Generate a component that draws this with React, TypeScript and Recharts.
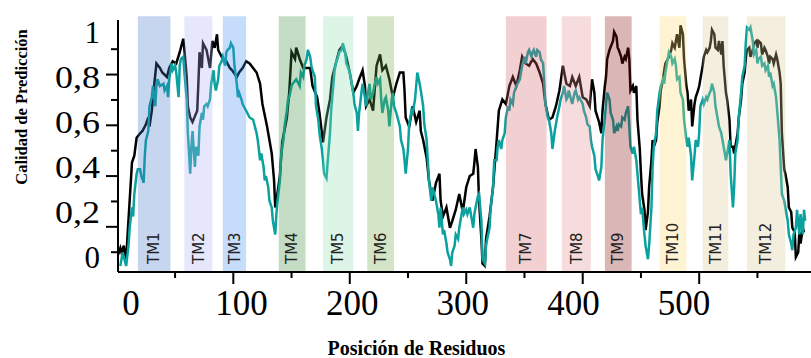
import { LineChart, Line, XAxis, YAxis, ReferenceArea } from 'recharts'

// [residue, score]
const blackSeries: [number, number][] = [
  [1, 0.01], [3, 0.04], [4, 0.02], [6, 0.05], [8, -0.02], [9, 0.08], [11, 0.25], [13, 0.42], [15, 0.45], [17, 0.53],
  [20, 0.55], [22, 0.56], [25, 0.59], [27, 0.62], [28, 0.58], [30, 0.65], [32, 0.76], [34, 0.86], [37, 0.84], [39, 0.82],
  [43, 0.8], [45, 0.84], [48, 0.87], [51, 0.86], [54, 0.91], [57, 0.97], [58, 0.92], [60, 0.8], [61, 0.67], [63, 0.62],
  [65, 0.6], [69, 0.65], [70, 0.77], [71, 0.91], [73, 0.84], [74, 0.95], [77, 0.92], [80, 0.84], [82, 0.96], [84, 0.93],
  [86, 0.99], [87, 0.92], [88, 0.91], [91, 0.88], [94, 0.87], [97, 0.84], [99, 0.83], [103, 0.8], [105, 0.82], [108, 0.84],
  [111, 0.87], [114, 0.86], [117, 0.84], [120, 0.82], [123, 0.77], [125, 0.68], [129, 0.58], [131, 0.52], [133, 0.46], [135, 0.34],
  [136, 0.22], [137, 0.25], [140, 0.36], [142, 0.51], [146, 0.62], [148, 0.73], [150, 0.91], [153, 0.88], [154, 0.93], [157, 0.88],
  [160, 0.84], [163, 0.84], [166, 0.84], [168, 0.76], [172, 0.71], [174, 0.64], [177, 0.51], [180, 0.62], [183, 0.7], [185, 0.8],
  [189, 0.88], [191, 0.92], [194, 0.94], [197, 0.89], [200, 0.82], [203, 0.73], [206, 0.76], [208, 0.79], [211, 0.83], [213, 0.76],
  [214, 0.67], [217, 0.7], [220, 0.65], [223, 0.85], [226, 0.9], [228, 0.83], [231, 0.85], [234, 0.79], [237, 0.71], [240, 0.77],
  [243, 0.82], [246, 0.82], [247, 0.74], [248, 0.62], [251, 0.58], [254, 0.67], [257, 0.6], [260, 0.65], [261, 0.56], [263, 0.52],
  [266, 0.44], [268, 0.34], [271, 0.25], [274, 0.33], [277, 0.37], [278, 0.25], [280, 0.18], [283, 0.22], [286, 0.13], [288, 0.16],
  [291, 0.21], [294, 0.28], [297, 0.2], [300, 0.31], [303, 0.36], [306, 0.37], [307, 0.42], [308, 0.48], [310, 0.4], [311, 0.25],
  [313, 0.08], [314, -0.03], [316, -0.04], [317, 0.08], [320, 0.18], [323, 0.31], [326, 0.51], [328, 0.65], [331, 0.7], [334, 0.68],
  [337, 0.76], [340, 0.8], [343, 0.76], [346, 0.83], [348, 0.89], [351, 0.86], [354, 0.85], [357, 0.88], [360, 0.86], [363, 0.82],
  [366, 0.77], [368, 0.68], [371, 0.61], [374, 0.62], [377, 0.67], [380, 0.74], [383, 0.85], [386, 0.77], [389, 0.76], [391, 0.8],
  [394, 0.76], [397, 0.8], [400, 0.71], [403, 0.7], [406, 0.67], [408, 0.79], [410, 0.73], [411, 0.65], [414, 0.6], [416, 0.55],
  [417, 0.65], [419, 0.76], [420, 0.8], [421, 0.88], [423, 0.92], [426, 0.96], [427, 1.0], [429, 0.98], [430, 0.93], [431, 0.92],
  [433, 0.89], [434, 0.86], [436, 0.89], [437, 0.88], [439, 0.93], [440, 0.88], [441, 0.74], [443, 0.76], [444, 0.73], [446, 0.76],
  [447, 0.61], [449, 0.48], [450, 0.37], [451, 0.28], [453, 0.21], [454, 0.12], [456, 0.2], [457, 0.31], [459, 0.43], [460, 0.52],
  [461, 0.49], [463, 0.52], [464, 0.6], [466, 0.67], [467, 0.74], [469, 0.79], [470, 0.83], [471, 0.86], [473, 0.88], [474, 0.89],
  [476, 0.92], [477, 0.95], [479, 0.93], [480, 0.96], [481, 0.99], [483, 0.93], [484, 1.03], [486, 0.99], [487, 0.88], [489, 0.76],
  [490, 0.73], [491, 0.65], [493, 0.7], [494, 0.58], [496, 0.68], [497, 0.71], [499, 0.74], [500, 0.76], [501, 0.79], [503, 0.85],
  [504, 0.89], [506, 0.92], [507, 0.91], [509, 0.93], [510, 0.96], [511, 1.01], [513, 0.99], [514, 0.93], [516, 0.92], [517, 0.96],
  [519, 0.9], [520, 0.96], [521, 0.85], [523, 0.73], [524, 0.7], [526, 0.61], [527, 0.49], [529, 0.49], [530, 0.46], [531, 0.49],
  [533, 0.55], [534, 0.62], [536, 0.7], [537, 0.77], [539, 0.82], [540, 0.88], [541, 0.92], [543, 0.93], [544, 0.89], [546, 0.92],
  [547, 0.95], [549, 0.96], [550, 0.93], [551, 0.96], [553, 0.95], [554, 0.9], [556, 0.93], [557, 0.92], [559, 0.89], [560, 0.86],
  [561, 0.89], [563, 0.88], [564, 0.86], [566, 0.9], [567, 0.88], [569, 0.82], [570, 0.77], [571, 0.55], [573, 0.39], [574, 0.37],
  [576, 0.31], [577, 0.22], [579, 0.2], [580, 0.13], [582, 0.11], [583, 0.0], [585, 0.02], [586, 0.11], [587, 0.06], [589, 0.13],
  [590, 0.11],
]

const tealSeries: [number, number][] = [
  [3, -0.04], [5, 0.02], [8, -0.04], [10, 0.05], [11, 0.13], [13, 0.22], [14, 0.18], [15, 0.28], [17, 0.37], [18, 0.39],
  [20, 0.39], [21, 0.36], [23, 0.33], [24, 0.45], [25, 0.52], [27, 0.56], [28, 0.67], [30, 0.71], [31, 0.76], [33, 0.67],
  [34, 0.76], [35, 0.79], [37, 0.76], [40, 0.77], [41, 0.74], [43, 0.76], [44, 0.71], [45, 0.79], [47, 0.86], [48, 0.83],
  [50, 0.85], [51, 0.82], [53, 0.71], [54, 0.85], [55, 0.88], [57, 0.89], [58, 0.82], [60, 0.7], [61, 0.55], [63, 0.37],
  [64, 0.49], [65, 0.56], [67, 0.4], [68, 0.49], [70, 0.45], [71, 0.58], [73, 0.64], [74, 0.61], [75, 0.67], [77, 0.68],
  [78, 0.67], [80, 0.7], [81, 0.77], [83, 0.83], [84, 0.77], [85, 0.74], [87, 0.79], [88, 0.85], [90, 0.87], [91, 0.89],
  [93, 0.85], [94, 0.91], [95, 0.92], [97, 0.93], [98, 0.95], [100, 0.93], [101, 0.85], [103, 0.77], [104, 0.71], [105, 0.73],
  [107, 0.7], [108, 0.68], [111, 0.65], [114, 0.62], [117, 0.61], [120, 0.55], [121, 0.52], [123, 0.43], [124, 0.46], [126, 0.4],
  [127, 0.34], [128, 0.36], [130, 0.31], [131, 0.25], [133, 0.22], [134, 0.16], [136, 0.1], [137, 0.19], [138, 0.25], [140, 0.34],
  [141, 0.45], [143, 0.52], [144, 0.58], [146, 0.65], [147, 0.7], [148, 0.71], [150, 0.76], [151, 0.77], [154, 0.79], [157, 0.76],
  [158, 0.82], [160, 0.8], [161, 0.85], [163, 0.88], [164, 0.92], [166, 0.89], [167, 0.85], [168, 0.83], [170, 0.8], [171, 0.67],
  [173, 0.61], [174, 0.55], [176, 0.48], [177, 0.43], [178, 0.37], [180, 0.35], [181, 0.42], [183, 0.55], [184, 0.65], [186, 0.77],
  [187, 0.83], [188, 0.86], [190, 0.89], [191, 0.91], [193, 0.92], [194, 0.95], [196, 0.91], [197, 0.86], [198, 0.85], [200, 0.82],
  [201, 0.79], [203, 0.73], [204, 0.68], [206, 0.64], [207, 0.56], [208, 0.64], [210, 0.73], [211, 0.77], [213, 0.71], [214, 0.67],
  [216, 0.74], [217, 0.77], [218, 0.7], [220, 0.73], [221, 0.76], [223, 0.8], [224, 0.77], [226, 0.79], [227, 0.7], [228, 0.64],
  [230, 0.7], [231, 0.71], [233, 0.65], [234, 0.58], [236, 0.7], [237, 0.73], [238, 0.67], [240, 0.64], [241, 0.62], [243, 0.58],
  [244, 0.52], [246, 0.48], [247, 0.43], [248, 0.37], [250, 0.48], [251, 0.59], [253, 0.65], [254, 0.64], [256, 0.7], [257, 0.76],
  [258, 0.82], [260, 0.77], [261, 0.74], [263, 0.67], [264, 0.59], [266, 0.52], [267, 0.43], [268, 0.34], [270, 0.25], [271, 0.31],
  [273, 0.27], [274, 0.25], [276, 0.19], [277, 0.13], [278, 0.22], [280, 0.1], [281, 0.12], [283, 0.06], [284, 0.02], [286, -0.01],
  [287, -0.04], [288, 0.02], [290, 0.05], [291, 0.1], [293, 0.08], [294, 0.13], [296, 0.19], [297, 0.22], [298, 0.19], [300, 0.21],
  [301, 0.19], [303, 0.22], [304, 0.19], [306, 0.13], [307, 0.19], [308, 0.22], [310, 0.27], [311, 0.28], [313, 0.16], [314, -0.01],
  [316, -0.03], [317, 0.05], [318, 0.08], [320, 0.13], [321, 0.22], [323, 0.31], [324, 0.43], [326, 0.43], [327, 0.49], [328, 0.52],
  [330, 0.48], [331, 0.52], [333, 0.55], [334, 0.62], [336, 0.67], [337, 0.65], [338, 0.7], [340, 0.68], [341, 0.73], [343, 0.76],
  [346, 0.79], [347, 0.82], [348, 0.85], [350, 0.89], [351, 0.86], [353, 0.91], [354, 0.92], [356, 0.89], [357, 0.91], [358, 0.92],
  [360, 0.89], [361, 0.92], [363, 0.91], [364, 0.88], [366, 0.86], [367, 0.77], [368, 0.68], [370, 0.62], [371, 0.61], [373, 0.55],
  [374, 0.48], [376, 0.56], [377, 0.59], [378, 0.62], [380, 0.67], [381, 0.7], [383, 0.73], [384, 0.76], [386, 0.7], [387, 0.71],
  [388, 0.74], [390, 0.7], [391, 0.68], [393, 0.73], [394, 0.74], [396, 0.7], [397, 0.71], [398, 0.7], [400, 0.68], [401, 0.65],
  [403, 0.62], [404, 0.59], [406, 0.58], [407, 0.52], [408, 0.49], [410, 0.45], [411, 0.39], [413, 0.36], [414, 0.34], [416, 0.4],
  [417, 0.52], [419, 0.62], [420, 0.68], [421, 0.73], [423, 0.7], [424, 0.64], [426, 0.61], [427, 0.55], [429, 0.58], [430, 0.56],
  [431, 0.59], [433, 0.58], [434, 0.62], [436, 0.61], [437, 0.64], [439, 0.67], [440, 0.58], [441, 0.49], [443, 0.46], [444, 0.49],
  [446, 0.43], [447, 0.37], [449, 0.25], [450, 0.19], [451, 0.22], [453, 0.1], [454, 0.05], [456, -0.01], [457, 0.05], [459, 0.22],
  [460, 0.4], [461, 0.49], [463, 0.55], [464, 0.65], [466, 0.73], [467, 0.76], [469, 0.79], [470, 0.77], [471, 0.82], [473, 0.88],
  [474, 0.91], [476, 0.89], [477, 0.86], [479, 0.88], [480, 0.85], [481, 0.79], [483, 0.8], [484, 0.73], [486, 0.7], [487, 0.61],
  [489, 0.52], [490, 0.49], [491, 0.53], [493, 0.45], [494, 0.34], [496, 0.45], [497, 0.52], [499, 0.49], [500, 0.55], [501, 0.67],
  [503, 0.7], [504, 0.68], [506, 0.71], [507, 0.7], [509, 0.73], [510, 0.74], [511, 0.77], [513, 0.73], [514, 0.67], [516, 0.61],
  [517, 0.58], [519, 0.55], [520, 0.52], [521, 0.49], [523, 0.43], [524, 0.46], [526, 0.52], [527, 0.37], [529, 0.22], [530, 0.31],
  [531, 0.46], [533, 0.52], [534, 0.62], [536, 0.73], [537, 0.8], [539, 0.85], [540, 0.95], [541, 1.02], [543, 1.01], [544, 1.02],
  [546, 0.96], [547, 0.9], [549, 0.92], [550, 0.86], [551, 0.88], [553, 0.89], [554, 0.85], [556, 0.86], [557, 0.83], [559, 0.85],
  [560, 0.8], [561, 0.82], [563, 0.76], [564, 0.77], [566, 0.71], [567, 0.65], [569, 0.52], [570, 0.4], [571, 0.28], [573, 0.25],
  [574, 0.22], [576, 0.16], [577, 0.1], [579, 0.06], [580, 0.03], [581, 0.1], [583, 0.13], [584, 0.21], [586, 0.1], [587, 0.19],
  [589, 0.1], [590, 0.21], [591, 0.16],
]

// transmembrane segments
const segNames = ['TM1', 'TM2', 'TM3', 'TM4', 'TM5', 'TM6', 'TM7', 'TM8', 'TM9', 'TM10', 'TM11', 'TM12']
const segStart = [18, 58, 91, 139, 177, 215, 334, 382, 419, 466, 503, 541]
const segEnd = [46, 82, 111, 162, 203, 238, 369, 407, 442, 489, 525, 574]
const segColors = [
  '#4176c6', '#acacf5', '#3e8aee', '#3a8a3a', '#8adeac', '#70a541',
  '#d46269', '#e18a8e', '#840c0c', '#fcda70', '#d7c691', '#d7c691',
]

const xLabelTicks = [0, 100, 200, 300, 400, 500]
const xMarkTicks = [50, 100, 150, 200, 250, 300, 350, 400, 450, 500, 550]
const yLabelTicks = [0, 0.2, 0.4, 0.6, 0.8, 1]
const yMarkTicks = [0, 0.1, 0.2, 0.3, 0.4, 0.5, 0.6, 0.7, 0.8]

const Y_MIN = -0.0667
const Y_MAX = 1.0533

const blackData = blackSeries.map(([residue, score]) => ({ residue, score }))
const tealData = tealSeries.map(([residue, score]) => ({ residue, score }))

const SERIF = '"Liberation Serif", "Times New Roman", serif'

function XMark({ x, y, payload }: any) {
  const len = payload.value % 100 === 0 ? 12 : 6
  return <line x1={x} y1={y} x2={x} y2={y + len} stroke="#000" strokeWidth={2} />
}

function YMark({ x, y, payload }: any) {
  const major = Math.round(payload.value * 10) % 2 === 1
  const len = major ? 12 : 7
  return <line x1={x - len} y1={y} x2={x} y2={y} stroke="#000" strokeWidth={2} />
}

function XLabelTick({ x, y, payload }: any) {
  return (
    <text x={x} y={y} dy="0.71em" textAnchor="middle" fontFamily={SERIF} fontSize={35} fill="#000">
      {payload.value}
    </text>
  )
}

function YLabelTick({ x, y, payload }: any) {
  const text = String(payload.value).replace('.', ',')
  return (
    <text
      x={x}
      y={y}
      dy="0.35em"
      textAnchor="end"
      fontFamily={SERIF}
      fontSize={31}
      fill="#000"
      textLength={text.length > 1 ? 45 : undefined}
      lengthAdjust="spacingAndGlyphs"
    >
      {text}
    </text>
  )
}

function BandLabel({ viewBox, value }: any) {
  const cx = viewBox.x + viewBox.width / 2
  const by = viewBox.y + viewBox.height - 8
  return (
    <text
      x={cx}
      y={by}
      dy="0.35em"
      transform={`rotate(-90 ${cx} ${by})`}
      textAnchor="start"
      fontFamily='"DejaVu Sans", sans-serif'
      fontSize={15}
      fill="#222"
    >
      {value}
    </text>
  )
}

function XTitle({ viewBox }: any) {
  const cx = viewBox.x + viewBox.width / 2 - 48
  return (
    <text x={cx} y={viewBox.y + viewBox.height - 3} textAnchor="middle" fontFamily={SERIF} fontWeight="bold" fontSize={20} fill="#000">
      Posición de Residuos
    </text>
  )
}

function YTitle({ viewBox }: any) {
  const cx = viewBox.x + 21
  const cy = viewBox.y + viewBox.height / 2 - 39
  return (
    <text
      x={cx}
      y={cy}
      dy="0.35em"
      transform={`rotate(-90 ${cx} ${cy})`}
      textAnchor="middle"
      fontFamily={SERIF}
      fontWeight="bold"
      fontSize={16.5}
      fill="#000"
    >
      Calidad de Predicción
    </text>
  )
}

export default function App() {
  return (
    <div style={{ position: 'absolute', left: 0, top: 0, width: 811, height: 358, background: '#fff' }}>
      <LineChart width={811} height={358} data={blackData} margin={{ top: 20, right: 0, bottom: 0, left: 0 }}>
        <XAxis
          xAxisId="xa"
          type="number"
          dataKey="residue"
          domain={[1, 596]}
          allowDataOverflow
          ticks={xMarkTicks}
          height={1}
          tickSize={0}
          tickMargin={0}
          tickLine={false}
          tick={<XMark />}
          axisLine={{ stroke: '#000', strokeWidth: 2 }}
        />
        <XAxis
          xAxisId="xb"
          type="number"
          dataKey="residue"
          domain={[-11.75, 614.8]}
          allowDataOverflow
          ticks={xLabelTicks}
          height={85}
          tickSize={0}
          tickMargin={17}
          tickLine={false}
          axisLine={false}
          tick={<XLabelTick />}
          label={{ content: <XTitle /> }}
        />
        <YAxis
          yAxisId="ya"
          type="number"
          domain={[-0.078, 0.915]}
          allowDataOverflow
          ticks={yMarkTicks}
          width={1}
          tickSize={0}
          tickMargin={0}
          tickLine={false}
          tick={<YMark />}
          axisLine={{ stroke: '#000', strokeWidth: 2 }}
        />
        <YAxis
          yAxisId="yb"
          type="number"
          domain={[Y_MIN, Y_MAX]}
          allowDataOverflow
          ticks={yLabelTicks}
          width={117}
          tickSize={0}
          tickMargin={17}
          tickLine={false}
          axisLine={false}
          tick={<YLabelTick />}
          label={{ content: <YTitle /> }}
        />
        <Line
          xAxisId="xa"
          yAxisId="yb"
          data={blackData}
          dataKey="score"
          type="linear"
          stroke="#000"
          strokeWidth={2.5}
          dot={false}
          isAnimationActive={false}
        />
        <Line
          xAxisId="xa"
          yAxisId="yb"
          data={tealData}
          dataKey="score"
          type="linear"
          stroke="#0aa19f"
          strokeWidth={2.5}
          dot={false}
          isAnimationActive={false}
        />
        {segNames.map((name, i) => (
          <ReferenceArea
            key={name}
            xAxisId="xa"
            yAxisId="yb"
            x1={segStart[i]}
            x2={segEnd[i]}
            y1={Y_MIN}
            y2={1.07}
            ifOverflow="visible"
            fill={segColors[i]}
            fillOpacity={0.3}
            stroke="none"
            zIndex={450}
            label={{ value: name, content: <BandLabel /> }}
          />
        ))}
      </LineChart>
    </div>
  )
}
